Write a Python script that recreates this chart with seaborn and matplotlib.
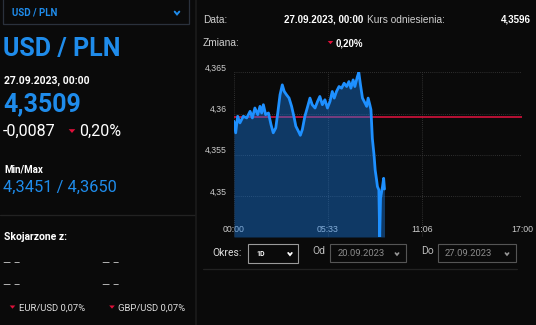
import matplotlib
matplotlib.use('Agg')
import matplotlib.pyplot as plt
import seaborn as sns
import pandas as pd
from matplotlib.patches import Rectangle, Polygon
from matplotlib.lines import Line2D

# ---------------- data ----------------
minutes = [0, 6, 13, 21, 33, 45, 57, 65, 74, 84,
           92, 98, 104, 112, 122, 131, 139, 148, 155, 163,
           171, 178, 186, 195, 204, 212, 219, 228, 235, 242,
           251, 261, 269, 277, 287, 296, 304, 313, 322, 331,
           340, 348, 355, 363, 372, 381, 390, 399, 407, 414,
           422, 428, 437, 442, 448, 455, 464, 470, 475, 481,
           485, 490, 496, 500, 505, 508, 513, 516, 519, 523,
           526, 530, 533]
rates = [4.3591, 4.3577, 4.3597, 4.3589, 4.3597, 4.3595, 4.3603, 4.3595, 4.3607, 4.3599,
         4.3609, 4.3601, 4.3611, 4.3599, 4.3601, 4.3587, 4.3577, 4.3583, 4.3601, 4.3623,
         4.3635, 4.3627, 4.3623, 4.3619, 4.3609, 4.3597, 4.3585, 4.3579, 4.3574, 4.3581,
         4.3597, 4.3609, 4.3619, 4.3611, 4.3607, 4.3615, 4.3621, 4.3611, 4.3617, 4.3607,
         4.3615, 4.3627, 4.3619, 4.3627, 4.3633, 4.3631, 4.3637, 4.3633, 4.3639, 4.3631,
         4.3641, 4.3633, 4.3645, 4.3650, 4.3635, 4.3619, 4.3613, 4.3609, 4.3619, 4.3611,
         4.3605, 4.3570, 4.3550, 4.3532, 4.3520, 4.3512, 4.3508, 4.3451, 4.3498, 4.3506,
         4.3512, 4.3522, 4.3509]
reference_rate = 4.3596
rate_min = 4.3451
rate_max = 4.3650
x_ticks = [0, 333, 666, 1020]
x_tick_labels = ['00:00', '05:33', '11:06', '17:00']
y_ticks = [4.35, 4.355, 4.36, 4.365]
y_tick_labels = ['4,35', '4,355', '4,36', '4,365']

pair = 'USD / PLN'
date_str = '27.09.2023, 00:00'
last_rate = '4,3509'
change_abs = '-0,0087'
change_pct = '0,20%'
minmax_label = 'Min/Max'
min_str, max_str = '4,3451', '4,3650'
related_title = 'Skojarzone z:'
related = ['EUR/USD 0,07%', 'GBP/USD 0,07%']
ref_str = '4,3596'
period = '1D'
date_from = '20.09.2023'
date_to = '27.09.2023'

# ---------------- style ----------------
sns.set_theme(style='dark')
BG = '#0a0a0a'
BLUE = '#1f8ceb'
RED = '#e0103a'
plt.rcParams['font.family'] = ['Roboto', 'DejaVu Sans']

W, H = 536, 325
fig = plt.figure(figsize=(W / 100, H / 100), dpi=100, facecolor=BG)


def fx(x):
    return x / W


def fy(y):
    return 1 - y / H


def txt(x, y, s, size, color, weight='normal', ha='left', va='center', family=None):
    kw = {}
    if family:
        kw['family'] = family
    fig.text(fx(x), fy(y), s, fontsize=size, color=color, fontweight=weight,
             ha=ha, va=va, **kw)


def rect(x0, y0, x1, y1, ec, lw=0.8):
    fig.add_artist(Rectangle((fx(x0), fy(y1)), fx(x1) - fx(x0), fy(y0) - fy(y1),
                             transform=fig.transFigure, fill=False, ec=ec, lw=lw))


def seg(x0, y0, x1, y1, color, lw=0.8):
    fig.add_artist(Line2D([fx(x0), fx(x1)], [fy(y0), fy(y1)],
                          transform=fig.transFigure, color=color, lw=lw))


def tri(x, y, s, color):
    fig.add_artist(Polygon([(fx(x - s), fy(y - s * 0.55)), (fx(x + s), fy(y - s * 0.55)),
                            (fx(x), fy(y + s * 0.6))], closed=True,
                           transform=fig.transFigure, color=color, lw=0))


def chevron(x, y, s, color, lw=1.2):
    fig.add_artist(Line2D([fx(x - s), fx(x), fx(x + s)], [fy(y - s * 0.6), fy(y + s * 0.6), fy(y - s * 0.6)],
                          transform=fig.transFigure, color=color, lw=lw,
                          solid_capstyle='round', solid_joinstyle='miter'))


# ---------------- left panel ----------------
rect(3, -2, 189, 24, '#2a313c', lw=0.9)
txt(12, 12.5, pair, 7, BLUE, weight='bold')
chevron(177, 13, 2.3, BLUE, lw=1.4)

txt(3, 49, pair, 18, BLUE, weight='bold')
txt(4, 81, date_str, 7.5, 'white', weight='bold')
txt(3, 104, last_rate, 18, BLUE, weight='bold')
txt(3, 131, change_abs, 11.5, 'white')
tri(72, 131, 3.3, RED)
txt(79, 131, change_pct, 11.5, 'white')
txt(4, 169.5, minmax_label, 7, 'white', weight='bold')
txt(3, 187, min_str + ' / ' + max_str, 11.8, BLUE)

seg(0, 215, 195, 215, '#222222', lw=0.9)
txt(4, 237.5, related_title, 7.5, 'white', weight='bold')
for yy in (263, 285):
    txt(3, yy, '\u2014 \u2013', 7.5, '#cfcfcf')
    txt(102, yy, '\u2014 \u2013', 7.5, '#cfcfcf')
tri(12.5, 307, 2.8, RED)
txt(19, 308, related[0], 6.8, '#dddddd')
tri(112, 307, 2.8, RED)
txt(118, 308, related[1], 6.8, '#dddddd')

seg(196, 0, 196, 325, '#1c1c1c', lw=1.2)

# ---------------- right panel header ----------------
RF = ['Liberation Sans', 'DejaVu Sans']
txt(203, 20, 'Data:', 7.3, '#cfcfcf', family=RF)
txt(363, 20, date_str, 7.0, 'white', weight='bold', ha='right', family=RF)
txt(367, 20, 'Kurs odniesienia:', 7.3, '#cfcfcf', family=RF)
txt(531, 20, ref_str, 7.0, 'white', weight='bold', ha='right', family=RF)
txt(203, 43.5, 'Zmiana:', 7.3, '#cfcfcf', family=RF)
tri(330.5, 42.5, 2.8, RED)
txt(363, 43.5, change_pct, 7.0, 'white', weight='bold', ha='right', family=RF)

# ---------------- chart ----------------
ax_top, ax_bot = 72.3, 237
ax = fig.add_axes([fx(234), fy(ax_bot), (522 - 234) / W, (ax_bot - ax_top) / H])
ax.set_facecolor(BG)
df = pd.DataFrame({'t': minutes, 'rate': rates})

ax.axhline(reference_rate, color='#d4123c', lw=1.2, zorder=2)
ax.fill_between(df['t'], df['rate'], rate_min, color='#1982f0', alpha=0.4, lw=0, zorder=3)
sns.lineplot(data=df, x='t', y='rate', ax=ax, color='#1e90ff', lw=2.0, zorder=4)

ax.set_xlim(0, 1020)
ax.set_ylim(rate_min, rate_max + 0.00002)
ax.set_xticks(x_ticks, x_tick_labels)
ax.set_yticks(y_ticks, y_tick_labels)
ax.set_xlabel('')
ax.set_ylabel('')
ax.grid(True, color='#3c3c3c', ls=(0, (1, 1.5)), lw=0.6)
ax.set_axisbelow(True)
for sp in ax.spines.values():
    sp.set_visible(False)
ax.tick_params(axis='both', colors='#cccccc', labelsize=6.3, length=0)
ax.tick_params(axis='x', pad=-8.3)
ax.tick_params(axis='y', pad=5)
for lab in ax.get_yticklabels():
    lab.set_va('bottom')
    lab.set_family(RF)
for lab in ax.get_xticklabels():
    lab.set_family(RF)

# ---------------- bottom controls ----------------
txt(212, 253.5, 'Okres:', 7.5, '#dddddd')
rect(248, 244, 298, 263, '#9a9a9a', lw=0.8)
txt(256, 254, period, 5, 'white', weight='bold')
chevron(290, 254, 1.8, 'white', lw=1.3)

txt(312, 251.5, 'Od', 7.5, '#bbbbbb')
rect(330, 244, 406, 262, '#555555', lw=0.8)
txt(338, 253, date_from, 6.8, '#8a8a8a')
chevron(397, 254, 1.6, '#9a9a9a', lw=1.2)

txt(421, 251.5, 'Do', 7.5, '#bbbbbb')
rect(438, 244, 516, 262, '#555555', lw=0.8)
txt(445, 253, date_to, 6.8, '#8a8a8a')
chevron(507, 254, 1.6, '#9a9a9a', lw=1.2)

seg(203, 269, 517, 269, '#222222', lw=0.9)

fig.savefig('out.png', dpi=100, facecolor=BG)
